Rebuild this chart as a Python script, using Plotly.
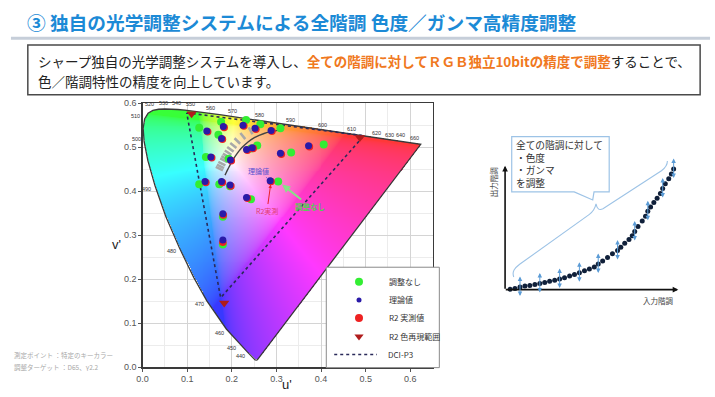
import numpy as np
import plotly.graph_objects as go

W, H = 715, 397

# ---------------- data ----------------
# CIE 1931 spectral locus (wavelength nm, x, y)
locus_nm = [380, 420, 440, 450, 460, 470, 475, 480, 485, 490, 495, 500, 505, 510, 515,
            520, 525, 530, 535, 540, 545, 550, 555, 560, 565, 570, 575, 580, 585, 590,
            595, 600, 605, 610, 620, 630, 640, 650, 660, 680, 700]
locus_x = [0.1741, 0.1714, 0.1644, 0.1566, 0.1440, 0.1241, 0.1096, 0.0913, 0.0687, 0.0454,
           0.0235, 0.0082, 0.0039, 0.0139, 0.0389, 0.0743, 0.1142, 0.1547, 0.1929, 0.2296,
           0.2658, 0.3016, 0.3373, 0.3731, 0.4087, 0.4441, 0.4788, 0.5125, 0.5448, 0.5752,
           0.6029, 0.6270, 0.6482, 0.6658, 0.6915, 0.7079, 0.7190, 0.7260, 0.7300, 0.7334, 0.7347]
locus_y = [0.0050, 0.0051, 0.0109, 0.0177, 0.0297, 0.0578, 0.0868, 0.1327, 0.2007, 0.2950,
           0.4127, 0.5384, 0.6548, 0.7502, 0.8120, 0.8338, 0.8262, 0.8059, 0.7816, 0.7543,
           0.7243, 0.6923, 0.6589, 0.6245, 0.5896, 0.5547, 0.5202, 0.4866, 0.4544, 0.4242,
           0.3965, 0.3725, 0.3514, 0.3340, 0.3083, 0.2920, 0.2809, 0.2740, 0.2700, 0.2666, 0.2653]

wl_labels = [440, 450, 460, 470, 480, 490, 500, 510, 520, 530, 540, 550,
             560, 570, 580, 590, 600, 610, 620, 630, 640, 660]

# Planckian locus (CIE 1960 u, v)
planck_T = [2000, 2500, 3000, 3500, 4000, 4500, 5000, 5500, 6000, 6500, 7000, 8000, 9000, 10000, 12000]
planck_u = [0.3051, 0.2723, 0.2506, 0.2357, 0.2251, 0.2173, 0.2114, 0.2067, 0.2030, 0.2000,
            0.1975, 0.1935, 0.1905, 0.1882, 0.1848]
planck_v = [0.3591, 0.3541, 0.3477, 0.3409, 0.3344, 0.3285, 0.3232, 0.3186, 0.3146, 0.3111,
            0.3080, 0.3030, 0.2990, 0.2958, 0.2910]

# measured points (u', v')
green_u = [0.127, 0.176, 0.170, 0.142, 0.193, 0.232, 0.264, 0.309, 0.243, 0.257, 0.333, 0.406,
           0.127, 0.172, 0.196, 0.304, 0.243, 0.180, 0.180]
green_v = [0.544, 0.558, 0.528, 0.478, 0.474, 0.562, 0.552, 0.543, 0.497, 0.504, 0.488, 0.506,
           0.416, 0.416, 0.411, 0.422, 0.382, 0.342, 0.279]
blue_u = [0.144, 0.181, 0.177, 0.153, 0.197, 0.225, 0.252, 0.288, 0.233, 0.246, 0.309, 0.372,
          0.140, 0.177, 0.196, 0.286, 0.233, 0.180, 0.180]
blue_v = [0.537, 0.547, 0.520, 0.478, 0.471, 0.550, 0.543, 0.538, 0.495, 0.499, 0.486, 0.503,
          0.422, 0.422, 0.414, 0.424, 0.386, 0.349, 0.289]
red_u = [0.146, 0.183, 0.179, 0.155, 0.199, 0.227, 0.254, 0.290, 0.235, 0.248, 0.311, 0.374,
         0.142, 0.179, 0.198, 0.288, 0.235, 0.181, 0.180]
red_v = [0.535, 0.545, 0.518, 0.476, 0.469, 0.548, 0.541, 0.536, 0.493, 0.497, 0.484, 0.501,
         0.420, 0.420, 0.412, 0.422, 0.384, 0.346, 0.284]
r2_gamut_u = [0.110, 0.487, 0.183]
r2_gamut_v = [0.576, 0.522, 0.146]
p3_u = [0.099, 0.496, 0.175]
p3_v = [0.578, 0.526, 0.158]

u_ticks = [0.0, 0.1, 0.2, 0.3, 0.4, 0.5, 0.6]
v_ticks = [0.0, 0.1, 0.2, 0.3, 0.4, 0.5, 0.6]

legend_names = ["調整なし", "理論値", "R2 実測値", "R2 色再現範囲", "DCI-P3"]

# gamma (input -> output, normalised)
gamma_in = [0.000, 0.030, 0.061, 0.091, 0.121, 0.152, 0.182, 0.212, 0.242, 0.273, 0.303,
            0.333, 0.364, 0.394, 0.424, 0.455, 0.485, 0.515, 0.539, 0.566, 0.596, 0.626,
            0.657, 0.677, 0.701, 0.727, 0.747, 0.762, 0.782, 0.808, 0.828, 0.842, 0.859,
            0.879, 0.899, 0.919, 0.933, 0.949, 0.970, 0.986, 1.000]
gamma_out = [0.000, 0.008, 0.019, 0.027, 0.032, 0.041, 0.049, 0.057, 0.068, 0.076, 0.086,
             0.097, 0.111, 0.124, 0.138, 0.154, 0.170, 0.186, 0.211, 0.235, 0.265, 0.295,
             0.324, 0.351, 0.384, 0.414, 0.446, 0.481, 0.522, 0.568, 0.608, 0.649, 0.684,
             0.722, 0.757, 0.797, 0.838, 0.878, 0.919, 0.959, 1.000]
gamma_arrow_idx = [2, 6, 10, 14, 18, 22, 27, 31, 36, 40]

callout_lines = ["全ての階調に対して", "・色度", "・ガンマ", "を調整"]

# ---------------- helpers ----------------
lx = np.array(locus_x); ly = np.array(locus_y)
lden = -2 * lx + 12 * ly + 3
locus_u = 4 * lx / lden
locus_v = 9 * ly / lden
pl_u = np.array(planck_u); pl_v = 1.5 * np.array(planck_v)

CJK = "Noto Sans CJK JP"
SANS = "Liberation Sans"

# chromaticity colour image
res = 1 / 450
nu = int(round(0.65 / res)); nv = int(round(0.6 / res))
us = (np.arange(nu) + 0.5) * res
vs = (np.arange(nv) + 0.5) * res
U, V = np.meshgrid(us, vs)
den = 6 * U - 16 * V + 12
cx = 9 * U / den; cy = 4 * V / den
X = cx / cy; Zc = (1 - cx - cy) / cy
r = 3.2406 * X - 1.5372 - 0.4986 * Zc
g = -0.9689 * X + 1.8758 + 0.0415 * Zc
b = 0.0557 * X - 0.2040 + 1.0570 * Zc
rgb = np.clip(np.stack([r, g, b], -1), 0, None)
rgb = rgb / np.maximum(rgb.max(axis=-1, keepdims=True), 1e-9)
srgb = np.where(rgb <= 0.0031308, 12.92 * rgb, 1.055 * rgb ** (1 / 2.4) - 0.055)
srgb = 0.78 * srgb + 0.22

inside = np.zeros(U.shape, bool)
n = len(locus_u); j = n - 1
for i in range(n):
    xi, yi, xj, yj = locus_u[i], locus_v[i], locus_u[j], locus_v[j]
    cond = ((yi > V) != (yj > V)) & (U < (xj - xi) * (V - yi) / (yj - yi + 1e-12) + xi)
    inside ^= cond
    j = i
img = np.zeros((nv, nu, 4), dtype=np.uint8)
img[..., :3] = np.clip(np.round(srgb * 255), 0, 255).astype(np.uint8)
img[..., 3] = inside.astype(np.uint8)

fig = go.Figure()

# main chart (xy)
fig.add_trace(go.Image(z=img.tolist(), colormodel="rgba", x0=res / 2, dx=res, y0=res / 2, dy=res,
                       hoverinfo="skip", xaxis="x", yaxis="y"))
fig.add_trace(go.Scatter(x=list(locus_u) + [locus_u[0]], y=list(locus_v) + [locus_v[0]],
                         mode="lines", line=dict(color="#3a3a3a", width=1.3),
                         hoverinfo="skip", showlegend=False, xaxis="x", yaxis="y"))
bx, by = [], []
for k in range(2, len(pl_u) - 1):
    du = pl_u[k - 1] - pl_u[k + 1]; dv = pl_v[k - 1] - pl_v[k + 1]
    L = np.hypot(du, dv)
    nx_, ny_ = -dv / L, du / L
    a, b_ = 4 / 450, 12 / 450
    bx += [pl_u[k] + nx_ * a, pl_u[k] + nx_ * b_, None]
    by += [pl_v[k] + ny_ * a, pl_v[k] + ny_ * b_, None]
fig.add_trace(go.Scatter(x=bx, y=by, mode="lines", line=dict(color="#a8a8a8", width=2.5),
                         hoverinfo="skip", showlegend=False, xaxis="x", yaxis="y"))
fig.add_trace(go.Scatter(x=pl_u, y=pl_v, mode="lines", line=dict(color="#444", width=1.4, shape="spline"),
                         hoverinfo="skip", showlegend=False, xaxis="x", yaxis="y"))
fig.add_trace(go.Scatter(x=p3_u + [p3_u[0]], y=p3_v + [p3_v[0]], mode="lines",
                         line=dict(color="#2a2a5a", width=1.6, dash="dot"),
                         hoverinfo="skip", showlegend=False, xaxis="x", yaxis="y"))
fig.add_trace(go.Scatter(x=green_u, y=green_v, mode="markers", marker=dict(color="#33ee33", size=8),
                         hoverinfo="skip", showlegend=False, xaxis="x", yaxis="y"))
fig.add_trace(go.Scatter(x=red_u, y=red_v, mode="markers", marker=dict(color="#ee2222", size=7.5),
                         hoverinfo="skip", showlegend=False, xaxis="x", yaxis="y"))
fig.add_trace(go.Scatter(x=blue_u, y=blue_v, mode="markers", marker=dict(color="#2a1aa8", size=7),
                         hoverinfo="skip", showlegend=False, xaxis="x", yaxis="y"))
fig.add_trace(go.Scatter(x=r2_gamut_u, y=r2_gamut_v, mode="markers",
                         marker=dict(color="#b01c1c", size=9, symbol="triangle-down"),
                         hoverinfo="skip", showlegend=False, xaxis="x", yaxis="y", cliponaxis=False))

# pixel overlay (x3/y3): legend box and legend symbols
lb = dict(x0=323, x1=437, y0=269, y1=372)
fig.add_trace(go.Scatter(x=[lb["x0"], lb["x1"], lb["x1"], lb["x0"], lb["x0"]],
                         y=[lb["y0"], lb["y0"], lb["y1"], lb["y1"], lb["y0"]],
                         mode="lines", fill="toself", fillcolor="white",
                         line=dict(color="#8a8a8a", width=1), hoverinfo="skip",
                         showlegend=False, xaxis="x3", yaxis="y3"))
leg_y = [284, 302.5, 321, 340, 358.5]
leg_sym = [dict(color="#33ee33", size=8), dict(color="#2a1aa8", size=5),
           dict(color="#ee2222", size=8), dict(color="#b01c1c", size=8, symbol="triangle-down")]
for k in range(4):
    fig.add_trace(go.Scatter(x=[356], y=[leg_y[k]], mode="markers", marker=leg_sym[k],
                             hoverinfo="skip", showlegend=False, xaxis="x3", yaxis="y3"))
fig.add_trace(go.Scatter(x=[331, 374], y=[leg_y[4], leg_y[4]], mode="lines",
                         line=dict(color="#2a2a5a", width=1.5, dash="dot"),
                         hoverinfo="skip", showlegend=False, xaxis="x3", yaxis="y3"))

# gamma diagram (x4/y4)
fig.add_trace(go.Scatter(x=gamma_in, y=gamma_out, mode="markers",
                         marker=dict(color="#10203a", size=5), cliponaxis=False,
                         hoverinfo="skip", showlegend=False, xaxis="x4", yaxis="y4"))

ann = []
def pa(text, x, y, size=9, color="#333", xanchor="center", yanchor="middle", font=CJK, **kw):
    ann.append(dict(text=text, x=x, y=y, xref="x3", yref="y3", showarrow=False,
                    xanchor=xanchor, yanchor=yanchor,
                    font=dict(size=size, color=color, family=font), **kw))

pa("<b>③ 独自の光学調整システムによる全階調 色度／ガンマ高精度調整</b>", 19, 17, size=18.7,
   color="#1c8ad6", xanchor="left")
pa("シャープ独自の光学調整システムを導入し、<span style='color:#f07820'><b>全ての階調に対してＲＧＢ独立10bitの精度で調整</b></span>することで、",
   30, 57, size=13.5, color="#222", xanchor="left")
pa("色／階調特性の精度を向上しています。", 30, 78, size=13.5, color="#222", xanchor="left")

pa("測定ポイント ：特定のキーカラー", 6, 359, size=6.5, color="#a8a8a8", xanchor="left")
pa("調整ターゲット ：D65、γ2.2", 6, 371, size=6.5, color="#a8a8a8", xanchor="left")

pa("v'", 111, 246, size=13, color="#222", font=SANS)
pa("u'", 283, 389, size=13, color="#222", font=SANS)

for k, nm in enumerate(legend_names):
    pa(nm, 384 if k < 4 else 383, leg_y[k], size=8, color="#333", xanchor="left")

wl_dx = [-7, -7, -7, -7.5, -8, -9, -8, -9, -3, -1, -1, -2, 0, 0, 0, 0, 0, 0, 1.5, -1.5, -2, -1]
wl_dy = [4, 4.5, 4, 3, 2.5, 2.5, -2, -3.5, -6.7, -5.7, -6, -7.5, -5.5, -5.5, -6, -5, -5, -5, -5, -5.3, -6.8, -5.2]
for k, wl in enumerate(wl_labels):
    i = locus_nm.index(wl)
    ann.append(dict(text=str(wl), x=locus_u[i], y=locus_v[i], xref="x", yref="y", showarrow=False,
                    xshift=wl_dx[k], yshift=-wl_dy[k], font=dict(size=5.5, color="#333", family=SANS)))

ann.append(dict(text="理論値", x=blue_u[15], y=blue_v[15], xref="x", yref="y", ax=-12, ay=-10,
                showarrow=True, arrowhead=0, arrowwidth=0.8, arrowcolor="#6a5ad8", standoff=3,
                font=dict(size=7, color="#5a4fd0", family=CJK)))
ann.append(dict(text="R2実測", x=red_u[15], y=red_v[15], xref="x", yref="y", ax=-4, ay=29,
                showarrow=True, arrowhead=2, arrowsize=0.7, arrowwidth=1, arrowcolor="#e8202a", standoff=3,
                font=dict(size=7, color="#e04070", family=CJK)))
ann.append(dict(text="<b>調整なし</b>", x=green_u[15], y=green_v[15], xref="x", yref="y", ax=32, ay=25,
                showarrow=True, arrowhead=2, arrowsize=0.8, arrowwidth=2, arrowcolor="#88e088", standoff=5,
                font=dict(size=7.5, color="#55cc55", family=CJK)))

pa("<br>".join(callout_lines), 512, 134, size=9.7, color="#333", xanchor="left", yanchor="top",
   align="left")
pa("出力階調", 492, 182, size=7.5, color="#444", textangle=-90)
pa("入力階調", 658, 303, size=7.5, color="#444")
ann.append(dict(text="", x=503.3, y=165, ax=503.3, ay=292.5, xref="x3", yref="y3",
                axref="x3", ayref="y3", showarrow=True, arrowhead=2, arrowsize=0.7,
                arrowwidth=1.6, arrowcolor="#111"))
ann.append(dict(text="", x=678, y=292, ax=502.5, ay=292, xref="x3", yref="y3",
                axref="x3", ayref="y3", showarrow=True, arrowhead=2, arrowsize=0.7,
                arrowwidth=1.6, arrowcolor="#111"))
for idx in gamma_arrow_idx:
    ann.append(dict(text="", x=gamma_in[idx], y=gamma_out[idx], xref="x4", yref="y4",
                    yshift=-9, ax=0, ay=-21, showarrow=True, arrowhead=2, arrowside="end+start",
                    arrowsize=0.9, arrowwidth=1, arrowcolor="#5b9bd5", standoff=0, startstandoff=0))

shapes = [
    dict(type="line", xref="x3", yref="y3", x0=5, x1=710, y0=34, y1=34,
         line=dict(color="#c6ced9", width=3)),
    dict(type="rect", xref="x3", yref="y3", x0=22, x1=700, y0=41, y1=92,
         line=dict(color="#4a4a4a", width=1.5)),
    dict(type="path", xref="x3", yref="y3",
         path="M 510 135 L 608.3 135 L 608.3 191.7 L 593 191.7 L 591.7 200 L 573 191.7 L 510 191.7 Z",
         line=dict(color="#9dc3e6", width=1.2), fillcolor="white"),
    dict(type="path", xref="x3", yref="y3",
         path="M 512 279 C 510 273, 513 270, 518 266 L 588 215 C 592 212, 594 209, 595 204 "
              "C 596 209, 598 211, 602 209 L 661 170 C 665 167, 667 164, 667 160",
         line=dict(color="#9dc3e6", width=1.1)),
]

ax_common = dict(showline=True, linecolor="#3a3a3a", linewidth=1.3, mirror=True,
                 ticks="outside", ticklen=3, tickcolor="#555", tickformat=".1f",
                 tickfont=dict(size=9, color="#555", family=SANS),
                 showgrid=True, gridcolor="#d4d4d4", gridwidth=1, zeroline=False,
                 minor=dict(dtick=0.05, showgrid=True, gridcolor="#ececec"))
hidden = dict(visible=False, showgrid=False, zeroline=False, fixedrange=True)

fig.update_layout(
    width=W, height=H, autosize=False,
    margin=dict(l=0, r=0, t=0, b=0),
    paper_bgcolor="white", plot_bgcolor="rgba(0,0,0,0)",
    showlegend=False,
    xaxis=dict(domain=[137.7 / W, 430.2 / W], range=[0, 0.65], tickvals=u_ticks,
               anchor="y", **ax_common),
    yaxis=dict(domain=[1 - 371.7 / H, 1 - 100.7 / H], range=[0, 0.6], tickvals=v_ticks,
               anchor="x", scaleanchor=False, **ax_common),
    xaxis3=dict(domain=[0, 1], range=[0, W], anchor="y3", **hidden),
    yaxis3=dict(domain=[0, 1], range=[H, 0], anchor="x3", **hidden),
    xaxis4=dict(domain=[508.3 / W, 673.3 / W], range=[0, 1], anchor="y4", **hidden),
    yaxis4=dict(domain=[1 - 291.7 / H, 1 - 168.3 / H], range=[0, 1], anchor="x4", **hidden),
    annotations=ann, shapes=shapes,
)
fig.write_html("out.html", config={"displayModeBar": False, "staticPlot": True},
               post_script="document.body.style.margin='0';document.body.style.overflow='hidden';")
